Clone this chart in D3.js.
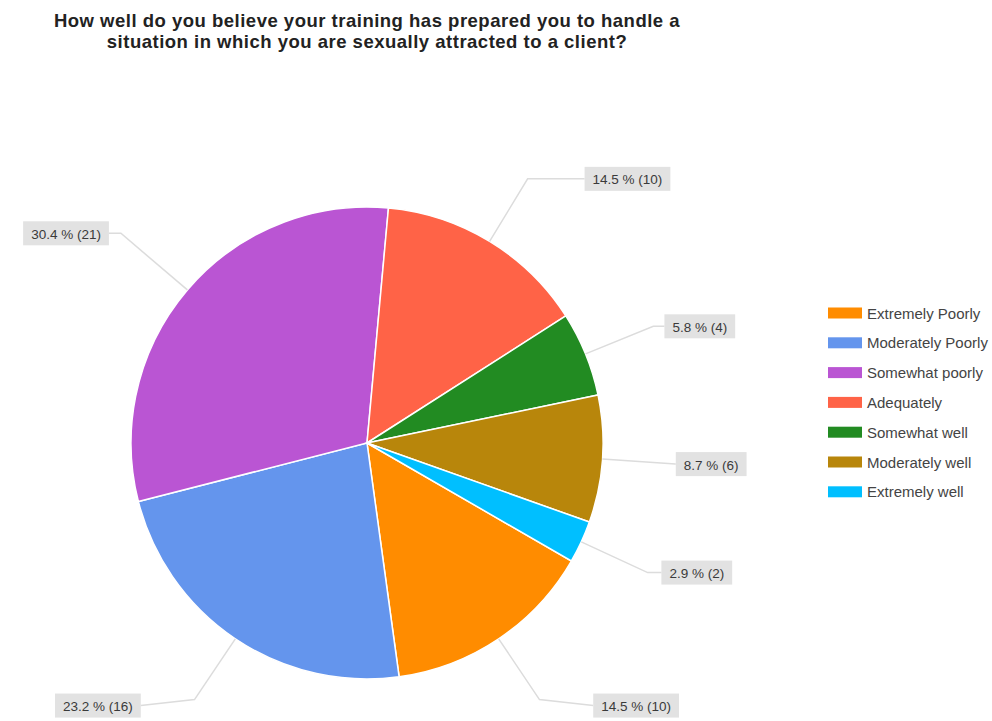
<!DOCTYPE html>
<html>
<head>
<meta charset="utf-8">
<script src="https://cdn.jsdelivr.net/npm/d3@7"></script>
<style>
  body { margin: 0; background: #fff; }
  svg { font-family: "Liberation Sans", Arial, sans-serif; }
</style>
</head>
<body>
<div id="chart"></div>
<script>
const titleLines = [
  "How well do you believe your training has prepared you to handle a",
  "situation in which you are sexually attracted to a client?"
];
const categories = ["Extremely Poorly", "Moderately Poorly", "Somewhat poorly", "Adequately",
                    "Somewhat well", "Moderately well", "Extremely well"];
const counts = [10, 16, 21, 10, 4, 6, 2];
const colors = ["#ff8c00", "#6495ed", "#ba55d3", "#ff6347", "#228b22", "#b8860b", "#00bfff"];

const w = 992, h = 721;
const cx = 367, cy = 443, r = 236;
const total = d3.sum(counts);

const svg = d3.select("#chart").append("svg")
  .attr("width", w)
  .attr("height", h);

// title
svg.append("g").selectAll("text")
  .data(titleLines)
  .enter()
  .append("text")
  .attr("x", cx)
  .attr("y", (d, i) => 27 + i * 21)
  .attr("text-anchor", "middle")
  .attr("font-size", 18.5)
  .attr("font-weight", "bold")
  .attr("letter-spacing", 0.5)
  .attr("fill", "#222")
  .text(d => d);

const data = categories.map((c, i) => ({ name: c, value: counts[i], color: colors[i] }));

const start = 120 * Math.PI / 180;
const pie = d3.pie().sort(null).value(d => d.value)
  .startAngle(start).endAngle(start + 2 * Math.PI);
const arc = d3.arc().innerRadius(0).outerRadius(r);
const arcs = pie(data);

const g = svg.append("g").attr("transform", "translate(" + cx + "," + cy + ")");
g.selectAll("path")
  .data(arcs)
  .enter()
  .append("path")
  .attr("d", arc)
  .attr("fill", d => d.data.color)
  .attr("stroke", "#fff")
  .attr("stroke-width", 1.5);

// labels with leader lines
const pt = (a, rad) => [rad * Math.sin(a), -rad * Math.cos(a)];
const lab = g.append("g");
arcs.forEach(function(d) {
  const mid = (d.startAngle + d.endAngle) / 2;
  const c = Math.cos(mid);
  const side = Math.sin(mid) >= 0 ? 1 : -1;
  const upLeft = c > 0.5 && side < 0;
  const p0 = pt(mid, r);
  // labels high on the left sit a bit further out
  const p1 = pt(mid, r * (upLeft ? 1.37 : 1.31));
  const tail = upLeft ? 12 : 78 * c * c;
  const dy = c < -0.7 ? 6 : 0;
  const p2 = [p1[0] + side * tail, p1[1] + dy];
  lab.append("polyline")
    .attr("points", [p0, p1, p2].map(p => p.join(",")).join(" "))
    .attr("fill", "none")
    .attr("stroke", "#dcdcdc")
    .attr("stroke-width", 1.5);
  const txt = (d.data.value / total * 100).toFixed(1) + " % (" + d.data.value + ")";
  const t = lab.append("text")
    .attr("font-size", 13.5)
    .attr("fill", "#3a3a3a")
    .attr("dominant-baseline", "central")
    .text(txt);
  const tw = t.node().getComputedTextLength();
  const pad = 8, bh = 24;
  const bx = side > 0 ? p2[0] : p2[0] - tw - 2 * pad;
  lab.insert("rect", "text")
    .attr("x", bx)
    .attr("y", p2[1] - bh / 2)
    .attr("width", tw + 2 * pad)
    .attr("height", bh)
    .attr("fill", "#e2e2e2");
  t.attr("x", bx + pad).attr("y", p2[1] + 1);
});

// legend
const legend = svg.append("g").attr("transform", "translate(828,313)");
const row = legend.selectAll("g")
  .data(data)
  .enter()
  .append("g")
  .attr("transform", (d, i) => "translate(0," + i * 29.8 + ")");
row.append("rect")
  .attr("x", 0)
  .attr("y", -5.5)
  .attr("width", 34)
  .attr("height", 11)
  .attr("fill", d => d.color);
row.append("text")
  .attr("x", 39)
  .attr("y", 0)
  .attr("dominant-baseline", "central")
  .attr("font-size", 15)
  .attr("fill", "#444")
  .text(d => d.name);
</script>
</body>
</html>
